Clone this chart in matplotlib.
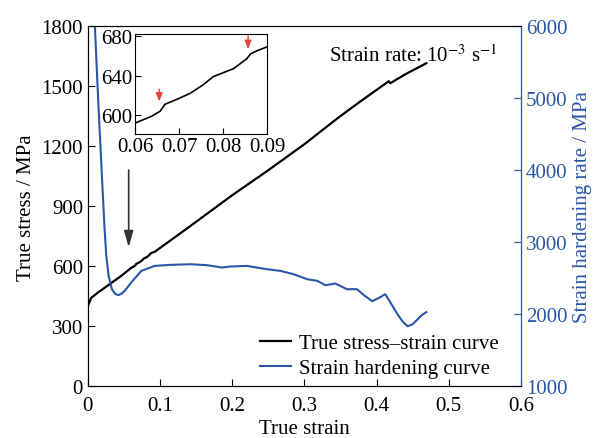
import numpy as np
import matplotlib
matplotlib.use('Agg')
import matplotlib.pyplot as plt

plt.rcParams['font.family'] = ['Liberation Serif', 'DejaVu Serif']
plt.rcParams['mathtext.fontset'] = 'stix'
plt.rcParams['font.size'] = 15

# true stress-strain curve
strain = [0, 0.0046, 0.0139, 0.03, 0.046, 0.06, 0.0638, 0.0657, 0.0668, 0.0695, 0.0725,
          0.0756, 0.0778, 0.0801, 0.0824, 0.0854, 0.0863, 0.0877, 0.09, 0.0926, 0.139, 0.2, 0.25,
          0.3, 0.346, 0.378, 0.417, 0.419, 0.44, 0.469]
stress = [402, 442, 468, 510, 551, 592, 599, 604, 611, 616, 622,
          631, 639, 643, 647, 657, 662, 665, 669, 672, 793, 955, 1080,
          1210, 1340, 1425, 1525, 1515, 1560, 1615]

# strain hardening curve
h_strain = [0.008, 0.0097, 0.013, 0.0162, 0.0185, 0.0208, 0.0231, 0.0255, 0.0287, 0.0333,
            0.0375, 0.0417, 0.046, 0.051, 0.06, 0.074, 0.0926, 0.114, 0.142, 0.165, 0.186,
            0.197, 0.22, 0.234, 0.248, 0.267, 0.285, 0.304, 0.318, 0.329, 0.343, 0.359,
            0.373, 0.383, 0.394, 0.404, 0.412, 0.42, 0.429, 0.436, 0.443, 0.45, 0.457,
            0.463, 0.469]
h_rate = [6500, 6000, 5250, 4569, 4107, 3643, 3181, 2810, 2532, 2347,
          2285, 2264, 2280, 2324, 2440, 2601, 2671, 2685, 2694, 2681, 2648,
          2662, 2671, 2648, 2625, 2601, 2556, 2486, 2463, 2403, 2426, 2347,
          2347, 2260, 2181, 2230, 2278, 2150, 2000, 1900, 1833, 1860, 1930,
          1990, 2028]

blue = '#2b56a6'

fig = plt.figure(figsize=(5.98, 4.39), dpi=100)
ax = fig.add_axes([0.147, 0.118, 0.724, 0.82])
ax2 = ax.twinx()

l1, = ax.plot(strain, stress, color='black', lw=1.6, label='True stress\u2013strain curve')
l2, = ax2.plot(h_strain, h_rate, color=blue, lw=1.5, label='Strain hardening curve')

ax.set_xlim(0, 0.6)
ax.set_ylim(0, 1800)
ax.set_xticks([0, 0.1, 0.2, 0.3, 0.4, 0.5, 0.6])
ax.set_xticklabels(['0', '0.1', '0.2', '0.3', '0.4', '0.5', '0.6'])
ax.set_yticks(np.arange(0, 1801, 300))
ax2.set_ylim(1000, 6000)
ax2.set_yticks(np.arange(1000, 6001, 1000))

ax.tick_params(direction='in', length=5, top=False, right=False)
ax.tick_params(axis='x', pad=7)
ax2.tick_params(direction='in', length=5, colors=blue)
ax2.spines['right'].set_color(blue)

ax.set_xlabel('True strain', labelpad=3)
ax.set_ylabel('True stress / MPa', labelpad=4)
ax2.set_ylabel('Strain hardening rate / MPa', color=blue, labelpad=4)

ax.text(0.945, 0.95, 'Strain rate: 10$^{-3}$ s$^{-1}$', transform=ax.transAxes,
        ha='right', va='top')

ax.annotate('', xy=(0.0565, 681), xytext=(0.0565, 1095),
            arrowprops=dict(arrowstyle='-|>,head_length=0.7,head_width=0.2',
                            color='#333333', lw=1.2, mutation_scale=14))

ax2.legend(handles=[l1, l2], loc='lower right', bbox_to_anchor=(0.993, -0.03),
           frameon=False, handlelength=1.5, handletextpad=0.4, labelspacing=0.25)

# inset
ins = fig.add_axes([0.2258, 0.6925, 0.2207, 0.2278])
ins.plot(strain, stress, color='black', lw=1.2)
ins.set_xlim(0.06, 0.09)
ins.set_ylim(581, 682)
ins.set_xticks([0.06, 0.07, 0.08, 0.09])
ins.set_yticks([600, 640, 680])
ins.tick_params(direction='in', length=4, pad=2)
ins.annotate('', xy=(0.0655, 611), xytext=(0.0655, 629),
             arrowprops=dict(arrowstyle='-|>,head_length=0.5,head_width=0.2',
                             color='#e8413c', lw=1.0, mutation_scale=10))
ins.annotate('', xy=(0.0857, 664), xytext=(0.0857, 683),
             arrowprops=dict(arrowstyle='-|>,head_length=0.5,head_width=0.2',
                             color='#e8413c', lw=1.0, mutation_scale=10))

fig.savefig('out.png', dpi=100)
